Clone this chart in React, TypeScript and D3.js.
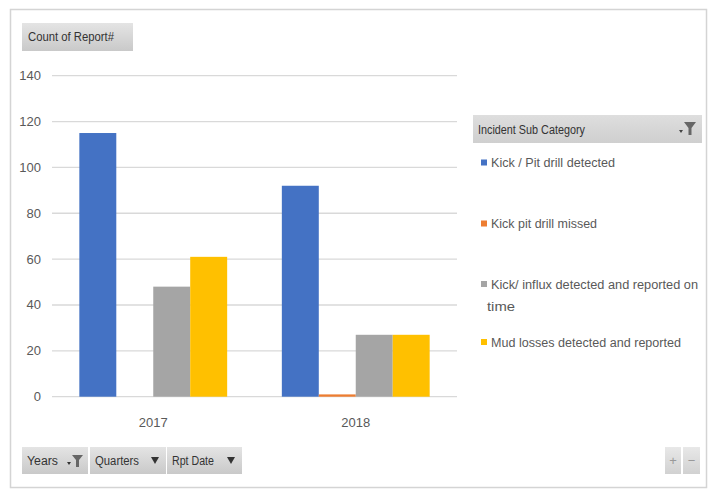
import React from "react";
import * as d3 from "d3";

const years = ["2017", "2018"];
const seriesNames = [
  "Kick / Pit drill detected",
  "Kick pit drill missed",
  "Kick/ influx detected and reported on time",
  "Mud losses detected and reported",
];
const seriesColors = ["#4472C4", "#ED7D31", "#A5A5A5", "#FFC000"];
const kickDetected = [115, 92];
const kickMissed = [0, 1];
const influxDetected = [48, 27];
const mudLosses = [61, 27];
const yTicks = [0, 20, 40, 60, 80, 100, 120, 140];

const seriesValues = [kickDetected, kickMissed, influxDetected, mudLosses];

const FONT = "'Liberation Sans Narrow', 'Liberation Sans', Arial, sans-serif";
const TXT = "#595959";

export default function App() {
  const W = 708, H = 491;
  const x0 = d3.scaleBand<string>().domain(years).range([52, 457]).paddingInner(0.27).paddingOuter(0.135);
  const x1 = d3.scaleBand<number>().domain(d3.range(seriesNames.length)).range([0, x0.bandwidth()]);
  const y = d3.scaleLinear().domain([0, 140]).range([396.7, 75.7]);

  const legendItems = [
    { lines: ["Kick / Pit drill detected"], y: [162.5], sq: 162.5, len: [124] },
    { lines: ["Kick pit drill missed"], y: [223.5], sq: 223.5, len: [106] },
    { lines: ["Kick/ influx detected and reported on", "time"], y: [284, 306], sq: 284, len: [207, 28] },
    { lines: ["Mud losses detected and reported"], y: [342], sq: 342, len: [190] },
  ];

  const buttons = [
    { label: "Years", x: 22, w: 66, icon: "filter", tl: 31 },
    { label: "Quarters", x: 90, w: 76, icon: "tri", tl: 44 },
    { label: "Rpt Date", x: 167, w: 75, icon: "tri", tl: 42 },
  ];

  return (
    <div style={{ position: "absolute", left: 0, top: 0 }}>
      <svg width={W} height={H} style={{ display: "block", fontFamily: FONT }}>
        <defs>
          <linearGradient id="btn" x1="0" y1="0" x2="0" y2="1">
            <stop offset="0" stopColor="#e4e4e4" />
            <stop offset="1" stopColor="#c9c9c9" />
          </linearGradient>
          <linearGradient id="hdr" x1="0" y1="0" x2="0" y2="1">
            <stop offset="0" stopColor="#dedede" />
            <stop offset="1" stopColor="#cfcfcf" />
          </linearGradient>
        </defs>
        <rect x={0} y={0} width={W} height={H} fill="#fff" />
        <rect x={10.5} y={9.5} width={696} height={478} fill="#fff" stroke="#d4d4d4" strokeWidth={1.5} />

        {/* Count of Report# button */}
        <rect x={22} y={23} width={111} height={28} fill="url(#btn)" />
        <text x={28} y={41} fontSize={12} fill="#333" textLength={86} lengthAdjust="spacingAndGlyphs">Count of Report#</text>

        {/* gridlines */}
        {yTicks.map((t) => (
          <g key={t}>
            <line x1={52} x2={457} y1={y(t)} y2={y(t)} stroke="#d9d9d9" strokeWidth={1.3} />
            <text x={41} y={y(t) + 4.5} fontSize={13} fill={TXT} textAnchor="end">{t}</text>
          </g>
        ))}

        {/* bars */}
        {years.map((yr, i) => (
          <g key={yr} transform={`translate(${x0(yr)},0)`}>
            {seriesValues.map((vals, s) => (
              <rect
                key={s}
                x={x1(s)}
                y={y(vals[i])}
                width={x1.bandwidth()}
                height={y(0) - y(vals[i])}
                fill={seriesColors[s]}
              />
            ))}
            <text x={x0.bandwidth() / 2} y={427} fontSize={13} fill={TXT} textAnchor="middle">{yr}</text>
          </g>
        ))}

        {/* legend header */}
        <rect x={473} y={115} width={229} height={28} fill="url(#hdr)" />
        <text x={478} y={134} fontSize={12} fill="#333" textLength={107} lengthAdjust="spacingAndGlyphs">Incident Sub Category</text>
        <g transform="translate(688,122)" fill="#666">
          <path d="M-4,0 L8,0 L3.5,6 L3.5,13 L0.5,13 L0.5,6 Z" />
          <path d="M-9,8 L-5,8 L-7,11 Z" fill="#444" />
        </g>

        {legendItems.map((it, s) => (
          <g key={s}>
            <rect x={481} y={it.sq - 3} width={6} height={6} fill={seriesColors[s]} />
            {it.lines.map((ln, k) => (
              <text
                key={k}
                x={k === 0 ? 491 : 487}
                y={it.y[k] + 4.5}
                fontSize={12.5}
                fill={TXT}
                textLength={it.len[k]}
                lengthAdjust="spacingAndGlyphs"
              >
                {ln}
              </text>
            ))}
          </g>
        ))}

        {/* bottom buttons */}
        {buttons.map((b) => (
          <g key={b.label}>
            <rect x={b.x} y={447} width={b.w} height={27} fill="url(#btn)" />
            <text x={b.x + 5} y={465} fontSize={12} fill="#333" textLength={b.tl} lengthAdjust="spacingAndGlyphs">{b.label}</text>
            {b.icon === "tri" ? (
              <path d={`M${b.x + b.w - 15},457 L${b.x + b.w - 7},457 L${b.x + b.w - 11},464 Z`} fill="#333" />
            ) : (
              <g transform={`translate(${b.x + b.w - 18},455)`} fill="#666">
                <path d="M2,0 L13,0 L9,5 L9,12 L6,12 L6,5 Z" />
                <path d="M-3,7 L1,7 L-1,10 Z" fill="#333" />
              </g>
            )}
          </g>
        ))}

        {/* plus / minus */}
        <rect x={665} y={447} width={16} height={27} fill="url(#btn)" opacity={0.85} />
        <rect x={683} y={447} width={17} height={27} fill="url(#btn)" opacity={0.85} />
        <text x={673} y={465} fontSize={13} fill="#999" textAnchor="middle">+</text>
        <text x={691.5} y={465} fontSize={13} fill="#999" textAnchor="middle">−</text>
      </svg>
    </div>
  );
}
